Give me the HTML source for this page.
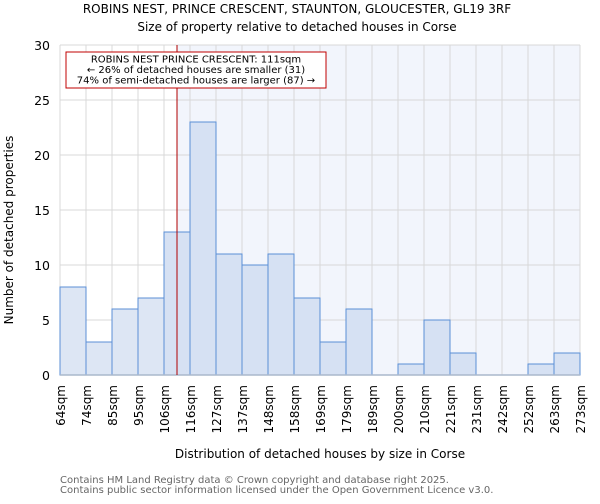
<!DOCTYPE html>
<html><head><meta charset="utf-8"><style>
body{margin:0;background:#fff;font-family:"DejaVu Sans","Liberation Sans",sans-serif;}
svg text{font-family:"DejaVu Sans","Liberation Sans",sans-serif;}
</style></head><body>
<svg id="chart" width="600" height="500" xmlns="http://www.w3.org/2000/svg">
<text x="297" y="13" font-size="12" text-anchor="middle">ROBINS NEST, PRINCE CRESCENT, STAUNTON, GLOUCESTER, GL19 3RF</text>
<text x="297" y="31" font-size="12" text-anchor="middle">Size of property relative to detached houses in Corse</text>
<g id="plot"></g>
<text x="320" y="458" font-size="12" text-anchor="middle">Distribution of detached houses by size in Corse</text>
<text transform="translate(13,230) rotate(-90)" font-size="12" text-anchor="middle">Number of detached properties</text>
<text x="60" y="483" font-size="10" fill="#666">Contains HM Land Registry data © Crown copyright and database right 2025.</text>
<text x="60" y="493" font-size="10" fill="#666">Contains public sector information licensed under the Open Government Licence v3.0.</text>
</svg>
<script>
const categories=["64sqm","74sqm","85sqm","95sqm","106sqm","116sqm","127sqm","137sqm","148sqm","158sqm","169sqm","179sqm","189sqm","200sqm","210sqm","221sqm","231sqm","242sqm","252sqm","263sqm","273sqm"];
const counts=[8,3,6,7,13,23,11,10,11,7,3,6,0,1,5,2,0,0,1,2];
const yTicks=[0,5,10,15,20,25,30];
const markerIndex=4.5;
const annotation=["ROBINS NEST PRINCE CRESCENT: 111sqm","← 26% of detached houses are smaller (31)","74% of semi-detached houses are larger (87) →"];
const X0=60,X1=580,Y0=375,Y1=45,YMAX=30;
const bw=(X1-X0)/counts.length;
const xs=i=>X0+i*bw;
const ys=v=>Y0-(v/YMAX)*(Y0-Y1);
const NS="http://www.w3.org/2000/svg";
const g=document.getElementById('plot');
function mk(t,a){const e=document.createElementNS(NS,t);for(const k in a)e.setAttribute(k,a[k]);g.appendChild(e);return e;}
const mx=xs(markerIndex);
let bg=mk('rect',{x:mx,y:Y1,width:X1-mx,height:Y0-Y1,fill:'#f2f5fc'});


for(let i=0;i<categories.length;i++){const l=mk('line',{x1:xs(i),x2:xs(i),y1:Y1,y2:Y0,stroke:'#d8d8d8','stroke-width':1});

}
yTicks.forEach(v=>{const l=mk('line',{x1:X0,x2:X1,y1:ys(v),y2:ys(v),stroke:'#d8d8d8','stroke-width':1});


const t=mk('text',{x:X0-10,y:ys(v)+5,'font-size':12.5,'text-anchor':'end'});t.textContent=v;

});
counts.forEach((c,i)=>{if(c<=0)return;const left=xs(i+1)<=mx;
const r=mk('rect',{x:xs(i),y:ys(c),width:bw,height:Y0-ys(c),fill:left?'#dde6f4':'#d6e1f3',stroke:'#5b8fd6','stroke-width':1});

});
let ax=mk('line',{x1:X0,x2:X1,y1:Y0,y2:Y0,stroke:'#aab8cc','stroke-width':1.5});


categories.forEach((c,i)=>{const t=mk('text',{transform:`translate(${xs(i)+5},${Y0+10}) rotate(-90)`,'font-size':12,'text-anchor':'end'});t.textContent=c;

});
let ml=mk('line',{x1:mx,x2:mx,y1:Y1,y2:Y0,stroke:'#b00000','stroke-width':1});


let box=mk('rect',{x:66,y:52,width:260,height:36,fill:'#fff',stroke:'#c00000','stroke-width':1});


annotation.forEach((s,i)=>{const t=mk('text',{x:196,y:62.5+i*10.5,'font-size':10,'text-anchor':'middle'});t.textContent=s;

});
</script>
</body></html>
